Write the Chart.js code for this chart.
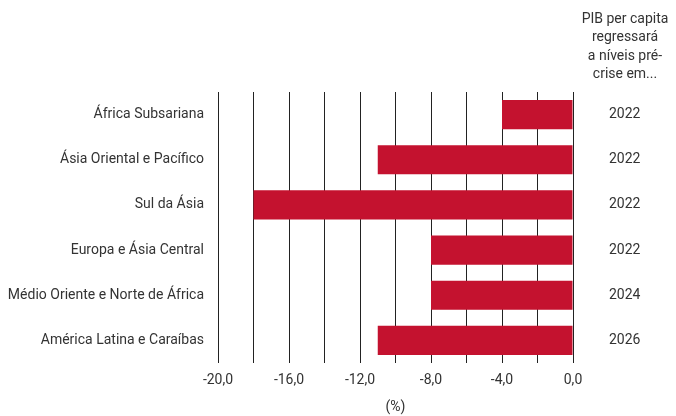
<!DOCTYPE html>
<html>
<head>
<meta charset="utf-8">
<script src="https://cdn.jsdelivr.net/npm/chart.js@4/dist/chart.umd.min.js"></script>
<style>
  html, body { margin: 0; padding: 0; background: #fff; }
  #wrap { width: 676px; height: 416px; position: relative; }
</style>
</head>
<body>
<div id="wrap"><canvas id="gdp-chart"></canvas></div>
<script>
const regions = [
  'África Subsariana',
  'Ásia Oriental e Pacífico',
  'Sul da Ásia',
  'Europa e Ásia Central',
  'Médio Oriente e Norte de África',
  'América Latina e Caraíbas',
];
const gdpChange = [-4.0, -11.0, -18.0, -8.0, -8.0, -11.0];
const recoveryYear = ['2022', '2022', '2022', '2022', '2024', '2026'];
const headerLines = ['PIB per capita', 'regressará', 'a níveis pré-', 'crise em...'];

const textColor = '#333';
const barColor = '#c4122f';
const fontFamily = 'Roboto, "Open Sans", sans-serif';

const fmt = v => v.toFixed(1).replace('.', ',');

// header above the year column
const headerPlugin = {
  id: 'header',
  afterDraw(chart) {
    const { ctx } = chart;
    const cx = 625;
    ctx.save();
    ctx.fillStyle = textColor;
    ctx.font = '14px ' + fontFamily;
    ctx.textAlign = 'center';
    ctx.textBaseline = 'middle';
    headerLines.forEach((line, i) => ctx.fillText(line, cx, 19 + i * 18.5));
    ctx.restore();
  },
};

new Chart(document.getElementById('gdp-chart'), {
  type: 'bar',
  data: {
    labels: regions,
    datasets: [{
      data: gdpChange,
      backgroundColor: barColor,
      borderWidth: 0,
      barPercentage: 0.645,
      categoryPercentage: 1,
    }],
  },
  options: {
    indexAxis: 'y',
    responsive: true,
    maintainAspectRatio: false,
    animation: false,
    layout: { padding: { top: 92, left: 0, right: 0, bottom: 0 } },
    plugins: { legend: { display: false }, tooltip: { enabled: false } },
    scales: {
      x: {
        min: -20,
        max: 0,
        ticks: {
          stepSize: 2,
          color: textColor,
          font: { family: fontFamily, size: 14 },
          padding: 9,
          maxRotation: 0,
          autoSkip: false,
          callback: v => (Math.round(v) % 4 === 0 ? fmt(v) : ''),
        },
        grid: { color: '#222', lineWidth: 1, drawTicks: false },
        border: { display: false },
        title: {
          display: true,
          text: '(%)',
          color: textColor,
          font: { family: fontFamily, size: 14 },
          padding: { top: 8, bottom: 0 },
        },
        afterFit: s => { s.height = 53; },
      },
      y: {
        position: 'left',
        ticks: { color: textColor, font: { family: fontFamily, size: 14 }, padding: 14 },
        grid: { display: false, drawTicks: false },
        border: { display: false },
        afterFit: s => { s.width = 218; },
      },
      y2: {
        type: 'category',
        position: 'right',
        labels: recoveryYear,
        offset: true,
        ticks: { color: textColor, font: { family: fontFamily, size: 14 }, padding: 36 },
        grid: { display: false, drawTicks: false },
        border: { display: false },
        afterFit: s => { s.width = 103; },
      },
    },
  },
  plugins: [headerPlugin],
});
</script>
</body>
</html>
